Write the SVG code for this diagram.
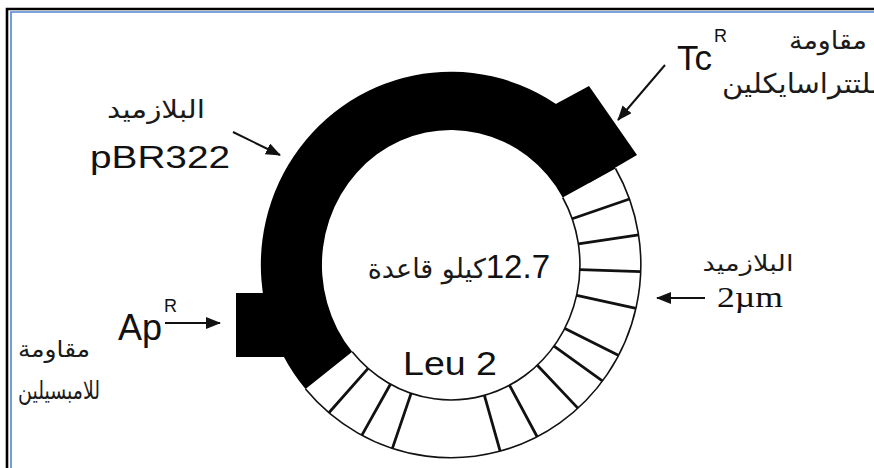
<svg xmlns="http://www.w3.org/2000/svg" width="874" height="468" viewBox="0 0 874 468">
<style>
.lat{font-family:"Liberation Sans",Arial,sans-serif;fill:#111}
.ser{font-family:"Liberation Serif","Times New Roman",serif;fill:#111}
.ar{font-family:"DejaVu Sans","Noto Sans",sans-serif;fill:#1a1a1a}
.thin{fill:none;stroke:#111;stroke-width:1.6}
.div{fill:none;stroke:#111;stroke-width:2.8;stroke-linecap:butt}
.arr{fill:none;stroke:#111;stroke-width:2}
</style>
<defs>
<marker id="ah" markerUnits="userSpaceOnUse" markerWidth="15" markerHeight="12" refX="14" refY="6" orient="auto">
<path d="M0,0 L15,6 L0,12 Z" fill="#111"/>
</marker>
</defs>
<rect x="0" y="0" width="874" height="468" fill="#ffffff"/>
<g id="frame">
<path d="M7,468 V9 H874" fill="none" stroke="#000" stroke-width="2.6"/>
<path d="M11,468 V12 H874" fill="none" stroke="#4f86cf" stroke-width="1.6"/>
</g>
<g id="plasmid-pbr322">
<path d="M305.5,389.1 A190,193 0 1,1 615.5,168.5 L562.7,197.5 A129,135 0 1,0 352.2,351.8 Z" fill="#000"/>
</g>
<g id="tcr-block">
<polygon points="589,183 637,155 589,86 552,106 545,150" fill="#000"/>
</g>
<g id="apr-block">
<rect x="236" y="293" width="60" height="64" fill="#000"/>
</g>
<g id="plasmid-2um">
<path class="thin" d="M615.5,168.5 A190,193 0 0,1 305.5,389.1"/>
<path class="thin" d="M562.7,197.5 A129,135 0 0,1 352.2,351.8"/>
<path class="div" d="M572.2,218.8 L629.5,199.0 M578.4,243.9 L638.7,234.8 M579.9,269.7 L640.9,271.7 M576.7,295.4 L636.1,308.4 M564.9,328.4 L618.8,355.6 M554.0,346.2 L602.7,381.1 M537.3,365.3 L578.1,408.4 M509.6,385.3 L537.3,437.0 M484.4,395.4 L500.2,451.4 M411.1,393.4 L392.3,448.6 M390.4,384.2 L361.8,435.4 M368.1,368.4 L328.9,412.8"/>
</g>
<g id="connectors">
<line class="arr" x1="233" y1="132" x2="280" y2="155" marker-end="url(#ah)"/>
<line class="arr" x1="665" y1="65" x2="618" y2="120" marker-end="url(#ah)"/>
<line class="arr" x1="165" y1="323" x2="220" y2="323" marker-end="url(#ah)"/>
<line class="arr" x1="705" y1="298" x2="657" y2="298" marker-end="url(#ah)"/>
</g>
<g id="label-pbr322">
<text class="ar" x="156" y="118" font-size="25" text-anchor="middle" textLength="98" lengthAdjust="spacingAndGlyphs">البلازميد</text>
<text class="lat" x="90" y="168" font-size="31" textLength="140" lengthAdjust="spacingAndGlyphs">pBR322</text>
</g>
<g id="label-tcr">
<text class="lat" x="677" y="70" font-size="35">Tc</text>
<text class="lat" x="714" y="42" font-size="18">R</text>
<text class="ar" x="828" y="49" font-size="25" text-anchor="middle" textLength="78" lengthAdjust="spacingAndGlyphs">مقاومة</text>
<text class="ar" x="801" y="93" font-size="27" text-anchor="middle" textLength="158" lengthAdjust="spacingAndGlyphs">للتتراسايكلين</text>
</g>
<g id="label-apr">
<text class="lat" x="118" y="340" font-size="36">Ap</text>
<text class="lat" x="164" y="312" font-size="18">R</text>
<text class="ar" x="54" y="357" font-size="23" text-anchor="middle" textLength="72" lengthAdjust="spacingAndGlyphs">مقاومة</text>
<text class="ar" x="59" y="399" font-size="25" text-anchor="middle" textLength="82" lengthAdjust="spacingAndGlyphs">للامبسيلين</text>
</g>
<g id="label-2um">
<text class="ar" x="748" y="271" font-size="22" text-anchor="middle" textLength="91" lengthAdjust="spacingAndGlyphs">البلازميد</text>
<text class="ser" x="717" y="307" font-size="30" textLength="66" lengthAdjust="spacingAndGlyphs">2µm</text>
</g>
<g id="label-center">
<text class="lat" x="550" y="278" font-size="33" direction="rtl" text-anchor="start" style="unicode-bidi:embed">12.7<tspan class="ar" font-size="27">كيلو قاعدة</tspan></text>
<text class="lat" x="403" y="375" font-size="34" textLength="94" lengthAdjust="spacingAndGlyphs">Leu 2</text>
</g>
</svg>
